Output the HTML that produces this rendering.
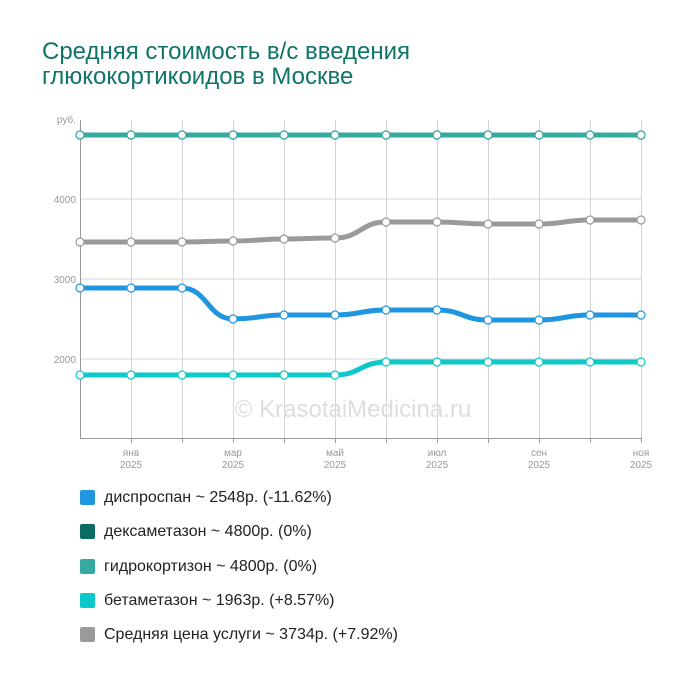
<!DOCTYPE html>
<html><head><meta charset="utf-8"><style>
body{margin:0;background:#fff;width:700px;height:684px;overflow:hidden;font-family:"Liberation Sans",sans-serif}
.t{position:absolute;left:42px;top:39px;font-size:24px;line-height:25px;color:#107468}
.lg{position:absolute;left:80px;font-size:16px;color:#222;line-height:18px}
.lg span{display:inline-block;width:15px;height:15px;border-radius:2px;vertical-align:-3px;margin-right:9px}
</style></head><body>
<div class="t">Средняя стоимость в/с введения<br>глюкокортикоидов в Москве</div>
<svg id="s" width="700" height="684" style="position:absolute;left:0;top:0" font-family="Liberation Sans, sans-serif">
<g stroke="#d4d4d4" stroke-width="1">
<line x1="80" y1="199" x2="641" y2="199"/><line x1="80" y1="279" x2="641" y2="279"/><line x1="80" y1="359" x2="641" y2="359"/>
</g>
<g id="vg" stroke="#d4d4d4" stroke-width="1"></g>
<line x1="80.5" y1="120" x2="80.5" y2="438" stroke="#999"/>
<line x1="80" y1="438.5" x2="641" y2="438.5" stroke="#999"/>
<g font-size="10" fill="#999" text-anchor="end">
<text x="76" y="123">руб.</text><text x="76" y="203">4000</text><text x="76" y="283">3000</text><text x="76" y="363">2000</text>
</g>
<g id="xl" font-size="10" fill="#999" text-anchor="middle"></g>
<text x="353" y="417" font-size="24" fill="#ddd" text-anchor="middle">© KrasotaiMedicina.ru</text>
<g id="ln" fill="none" stroke-width="5"></g>
</svg>
<div class="lg" style="top:489px"><span style="background:#2196e0"></span>диспроспан ~ 2548р. (-11.62%)</div>
<div class="lg" style="top:523px"><span style="background:#0c6b62"></span>дексаметазон ~ 4800р. (0%)</div>
<div class="lg" style="top:558px"><span style="background:#36aaa0"></span>гидрокортизон ~ 4800р. (0%)</div>
<div class="lg" style="top:592px"><span style="background:#0cc8c8"></span>бетаметазон ~ 1963р. (+8.57%)</div>
<div class="lg" style="top:626px"><span style="background:#9a9a9a"></span>Средняя цена услуги ~ 3734р. (+7.92%)</div>
<script>
var NS="http://www.w3.org/2000/svg";
function el(p,t,a,txt){var e=document.createElementNS(NS,t);for(var k in a)e.setAttribute(k,a[k]);if(txt)e.textContent=txt;p.appendChild(e);return e;}
var xs=[];for(var i=0;i<12;i++)xs.push(80+51*i);
var vg=document.getElementById('vg'),xl=document.getElementById('xl');
for(var i=1;i<12;i++){el(vg,'line',{x1:xs[i]+.5,y1:120,x2:xs[i]+.5,y2:438});el(vg,'line',{x1:xs[i]+.5,y1:438,x2:xs[i]+.5,y2:443,stroke:'#999'});}
var m={1:'янв',3:'мар',5:'май',7:'июл',9:'сен',11:'ноя'};
for(var k in m){el(xl,'text',{x:xs[k],y:456},m[k]);el(xl,'text',{x:xs[k],y:468},'2025');}
var S=[
['#9a9a9a',[242,242,242,241,239,238,222,222,224,224,220,220]],
['#2196e0',[288,288,288,319,315,315,310,310,320,320,315,315]],
['#0cc8c8',[375,375,375,375,375,375,362,362,362,362,362,362]],
['#0c6b62',[135,135,135,135,135,135,135,135,135,135,135,135]],
['#36aaa0',[135,135,135,135,135,135,135,135,135,135,135,135]]];
var g=document.getElementById('ln');
S.forEach(function(s){var y=s[1],d='M'+xs[0]+','+y[0];
for(var i=1;i<12;i++)d+=' C'+(xs[i-1]+25)+','+y[i-1]+' '+(xs[i]-25)+','+y[i]+' '+xs[i]+','+y[i];
el(g,'path',{d:d,stroke:s[0]});
for(var i=0;i<12;i++)el(g,'circle',{cx:xs[i],cy:y[i],r:4,fill:'#fff',stroke:s[0],'stroke-width':1.2});});
</script>
</body></html>
